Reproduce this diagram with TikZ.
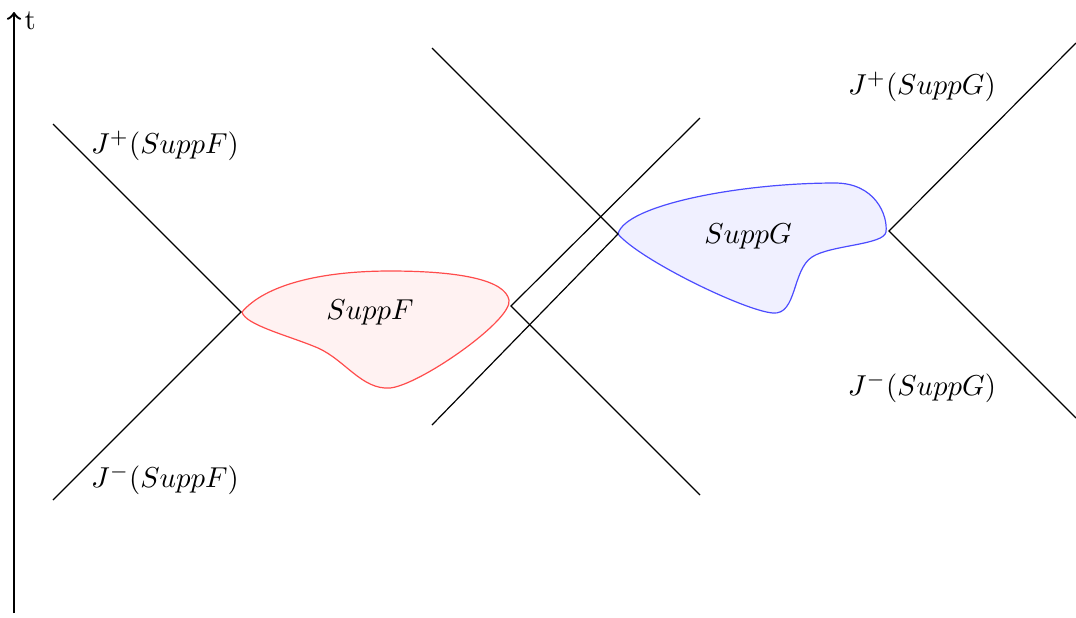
\documentclass[tikz,border=0pt]{standalone}
\begin{document}
\begin{tikzpicture}[x=0.3333pt,y=-0.3333pt,
  cone/.style={black,line width=0.4pt},
  lbl/.style={inner sep=0pt,scale=0.96}]
\useasboundingbox (0,0) rectangle (1076,617);
% axis
\coordinate (ax0) at (14,613);
\coordinate (ax1) at (14,12);
\draw[->,thick] (ax0) -- (ax1);
\node[lbl,anchor=west] (tl) at (24,21) {t};
% supports
\draw[red!70,fill=red!5,line width=0.4pt] (242,312)
  .. controls (265,285) and (320,271) .. (390,271)
  .. controls (460,271) and (505,280) .. (509,300)
  .. controls (513,320) and (420,385) .. (390,388)
  .. controls (362,390) and (345,360) .. (318,348)
  .. controls (290,336) and (245,325) .. (242,312) -- cycle;
\draw[blue!70,fill=blue!6,line width=0.4pt] (618,234)
  .. controls (625,205) and (740,183) .. (835,183)
  .. controls (875,183) and (888,215) .. (886,232)
  .. controls (884,245) and (830,245) .. (812,257)
  .. controls (792,270) and (797,315) .. (773,313)
  .. controls (745,311) and (640,260) .. (618,234) -- cycle;
% cone vertices
\coordinate (fl) at (241,312);
\coordinate (fr) at (511,306);
\coordinate (gl) at (618,234);
\coordinate (gr) at (889,231);
% ends
\coordinate (fl1) at (53,124);
\coordinate (fl2) at (53,500);
\coordinate (fr1) at (700,118);
\coordinate (fr2) at (700,495);
\coordinate (gl1) at (432,48);
\coordinate (gl2) at (432,425);
\coordinate (gr1) at (1076,43);
\coordinate (gr2) at (1076,418);
\draw[cone] (fl1) -- (fl) -- (fl2);
\draw[cone] (fr1) -- (fr) -- (fr2);
\draw[cone] (gl1) -- (gl) -- (gl2);
\draw[cone] (gr1) -- (gr) -- (gr2);
% labels
\node[lbl] (jpf) at (165,146) {$J^{+}(SuppF)$};
\node[lbl] (jmf) at (165,480) {$J^{-}(SuppF)$};
\node[lbl] (jpg) at (922,87) {$J^{+}(SuppG)$};
\node[lbl] (jmg) at (922,388) {$J^{-}(SuppG)$};
\node[lbl] (sf) at (370,312) {$SuppF$};
\node[lbl] (sg) at (748,236) {$SuppG$};
\end{tikzpicture}
\end{document}
